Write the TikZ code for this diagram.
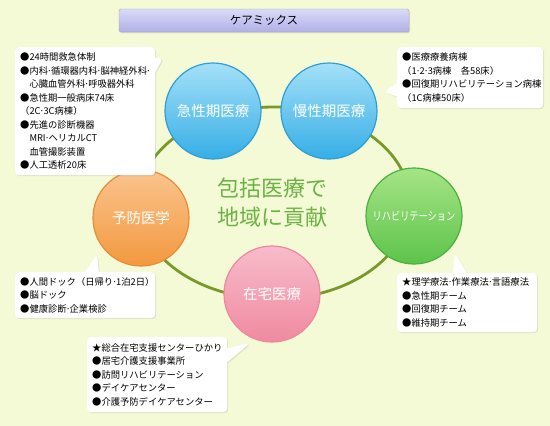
\documentclass[tikz,border=0pt]{standalone}
\usepackage{fontspec}
\usepackage{graphicx}
\setmainfont{Noto Sans CJK JP}
\setlength{\parindent}{0pt}
\usetikzlibrary{positioning, calc, shapes.callouts, shadows}

\definecolor{bgcream}{HTML}{F4FAD6}
\definecolor{ringgreen}{HTML}{789A2A}
\definecolor{mottogreen}{HTML}{6CB244}
\definecolor{blueedge}{HTML}{2E9FD6}
\definecolor{bluetop}{HTML}{A4E0F8}
\definecolor{bluebot}{HTML}{36AEE6}
\definecolor{greenedge}{HTML}{4CB040}
\definecolor{greentop}{HTML}{A6E486}
\definecolor{greenbot}{HTML}{5CC44A}
\definecolor{orangeedge}{HTML}{E88B3A}
\definecolor{orangetop}{HTML}{FAC48E}
\definecolor{orangebot}{HTML}{F3993F}
\definecolor{pinkedge}{HTML}{EC88A0}
\definecolor{pinktop}{HTML}{F8BCCA}
\definecolor{pinkbot}{HTML}{F08AA0}
\definecolor{lavtop}{HTML}{DADAF8}
\definecolor{lavbot}{HTML}{B0B0E8}

% narrow middle dot
\newcommand{\nakapt}{\makebox[0.32em]{·}}

\begin{document}
\begin{tikzpicture}[x=1pt, y=-1pt,
bubble/.style={circle, minimum size=96pt, line width=1.2pt, text=white, font=\fontsize{14.5}{16}\selectfont},
bluebubble/.style={bubble, draw=blueedge, top color=bluetop, bottom color=bluebot},
greenbubble/.style={bubble, draw=greenedge, top color=greentop, bottom color=greenbot},
orangebubble/.style={bubble, draw=orangeedge, top color=orangetop, bottom color=orangebot},
pinkbubble/.style={bubble, draw=pinkedge, top color=pinktop, bottom color=pinkbot},
memo/.style={rectangle callout, rounded corners=4pt, fill=white, anchor=north west, align=left, text width=130pt, inner xsep=5pt, inner ysep=3pt, callout pointer width=14pt, font=\fontsize{9.3}{13.5}\selectfont, drop shadow={opacity=0.18, shadow xshift=1pt, shadow yshift=-1pt}},
titlebar/.style={draw=gray!70, rounded corners=1.5pt, minimum width=290pt, minimum height=23pt, top color=lavtop, bottom color=lavbot, font=\fontsize{11.5}{13}\selectfont, drop shadow={opacity=0.25, shadow xshift=1pt, shadow yshift=-1pt}},
ring/.style={draw=ringgreen, line width=2.8pt}]
    \path[use as bounding box, fill=bgcream] (0,0) rectangle (550,426);

    \node[titlebar] (title) at (264,20.5) {ケアミックス};

    \draw[ring] (274,203) ellipse [x radius=136, y radius=96];

    \node[bluebubble] (acute) at (213,111) {急性期医療};
    \node[bluebubble] (chronic) at (329,111) {慢性期医療};
    \node[greenbubble] (rehab) at (414,216) {\fontsize{11.5}{13}\selectfont\scalebox{0.8}[1]{リハビリテーション}};
    \node[orangebubble] (prevent) at (141,218) {予防医学};
    \node[pinkbubble] (home) at (272,294) {在宅医療};

    \node[font=\fontsize{22}{29}\selectfont, text=mottogreen, align=center] (motto) at (272,203) {包括医療で\\地域に貢献};

    \node[memo, minimum height=128pt, callout absolute pointer={(163,58)}] (acutememo) at (15,47)
        {●24時間救急体制\\●内科\nakapt 循環器内科\nakapt 脳神経外科\nakapt\\　心臓血管外科\nakapt 呼吸器外科\\●急性期一般病床74床\\（2C\nakapt 3C病棟）\\●先進の診断機器\\　MRI\nakapt ヘリカルCT\\　血管撮影装置\\●人工透析20床};
    \node[memo, text width=136pt, minimum height=61pt, callout absolute pointer={(384,92)}] (chronicmemo) at (397,47)
        {●医療療養病棟\\（1\nakapt 2\nakapt 3病棟　各58床）\\●回復期リハビリテーション病棟\\（1C病棟50床）};
    \node[memo, minimum height=59pt, callout absolute pointer={(455,253)}] (rehabmemo) at (397,273)
        {★理学療法\nakapt 作業療法\nakapt 言語療法\\●急性期チーム\\●回復期チーム\\●維持期チーム};
    \node[memo, minimum height=46pt, callout absolute pointer={(97,254)}] (preventmemo) at (15,272)
        {●人間ドック（日帰り\nakapt 1泊2日）\\●脳ドック\\●健康診断\nakapt 企業検診};
    \node[memo, minimum height=75pt, callout absolute pointer={(250,343)}] (homememo) at (87,337)
        {★総合在宅支援センターひかり\\●居宅介護支援事業所\\●訪問リハビリテーション\\●デイケアセンター\\●介護予防デイケアセンター};
\end{tikzpicture}
\end{document}
